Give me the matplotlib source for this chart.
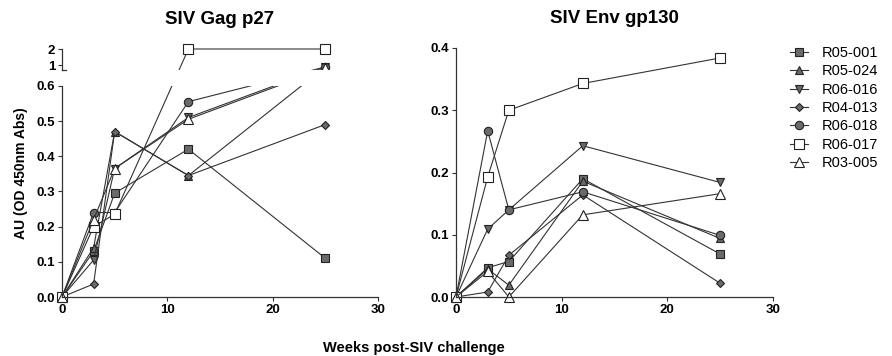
import numpy as np
import matplotlib
matplotlib.use('Agg')
import matplotlib.pyplot as plt
from matplotlib.lines import Line2D

plt.rcParams['font.family'] = ['Liberation Sans', 'DejaVu Sans']
plt.rcParams['font.weight'] = 'bold'

weeks = [0, 3, 5, 12, 25]
animals = ['R05-001', 'R05-024', 'R06-016', 'R04-013', 'R06-018', 'R06-017', 'R03-005']

# SIV Gag p27
gag = {
    'R05-001': [0, 0.13, 0.295, 0.42, 0.11],
    'R05-024': [0, 0.14, 0.47, 0.345, 0.88],
    'R06-016': [0, 0.105, 0.365, 0.51, 0.88],
    'R04-013': [0, 0.037, 0.47, 0.345, 0.49],
    'R06-018': [0, 0.24, 0.24, 0.555, 0.88],
    'R06-017': [0, 0.20, 0.235, 2.0, 2.0],
    'R03-005': [0, 0.22, 0.365, 0.505, 0.80],
}

# SIV Env gp130
env = {
    'R05-001': [0, 0.047, 0.057, 0.19, 0.069],
    'R05-024': [0, 0.045, 0.019, 0.186, 0.094],
    'R06-016': [0, 0.109, 0.14, 0.243, 0.184],
    'R04-013': [0, 0.008, 0.067, 0.164, 0.022],
    'R06-018': [0, 0.267, 0.14, 0.169, 0.099],
    'R06-017': [0, 0.193, 0.30, 0.343, 0.384],
    'R03-005': [0, 0.041, 0.0, 0.132, 0.166],
}

gag_ticks = [0, 0.1, 0.2, 0.3, 0.4, 0.5, 0.6, 1, 2]
gag_ticklabels = ['0.0', '0.1', '0.2', '0.3', '0.4', '0.5', '0.6', '1', '2']
env_ticks = [0, 0.1, 0.2, 0.3, 0.4]
env_ticklabels = ['0.0', '0.1', '0.2', '0.3', '0.4']
x_ticks = [0, 10, 20, 30]

styles = {
    'R05-001': dict(marker='s', ms=5.5, mfc='#6a6a6a'),
    'R05-024': dict(marker='^', ms=6, mfc='#6a6a6a'),
    'R06-016': dict(marker='v', ms=6, mfc='#6a6a6a'),
    'R04-013': dict(marker='D', ms=3.8, mfc='#6a6a6a'),
    'R06-018': dict(marker='o', ms=6, mfc='#6a6a6a'),
    'R06-017': dict(marker='s', ms=7, mfc='white'),
    'R03-005': dict(marker='^', ms=7.5, mfc='white'),
}
lc = '#333333'

# broken y axis for the left panel: piecewise linear (pixel units)
yb = np.array([-10, 0, 0.6, 0.6875, 100])
tb = np.array([-3520, 0, 211.2, 227, 227 + 16 * (100 - 0.6875)])
def fwd(y):
    return np.interp(y, yb, tb)
def inv(t):
    return np.interp(t, tb, yb)

fig = plt.figure(figsize=(8.92, 3.56), dpi=100)
ax1 = fig.add_axes([62/892, 59/356, 316/892, 248/356])
ax2 = fig.add_axes([456/892, 59/356, 317/892, 249/356])

ax1.set_yscale('function', functions=(fwd, inv))

for a in animals:
    st = styles[a]
    ax1.plot(weeks, gag[a], color=lc, lw=0.8, mec='#222222', mew=0.8,
             clip_on=False, zorder=2, **st)
    ax2.plot(weeks, env[a], color=lc, lw=0.8, mec='#222222', mew=0.8,
             clip_on=False, zorder=2, **st)

ax1.set_ylim(0, 2)
ax1.set_yticks(gag_ticks)
ax1.set_yticklabels(gag_ticklabels)
ax1.minorticks_off()
ax1.axhspan(0.6, 0.6875, facecolor='white', edgecolor='none', zorder=2.4)
ax1.spines['left'].set_bounds(0, 0.6)
ax1.plot([0, 0], [0.6875, 2], transform=ax1.get_yaxis_transform(),
         color=lc, lw=0.9, clip_on=False, zorder=3)
ax1.plot([0, 0.012], [0.6875, 0.6875], transform=ax1.get_yaxis_transform(),
         color=lc, lw=0.9, clip_on=False, zorder=3)

ax2.set_ylim(0, 0.4)
ax2.set_yticks(env_ticks)
ax2.set_yticklabels(env_ticklabels)

for ax in (ax1, ax2):
    ax.set_xlim(0, 30)
    ax.set_xticks(x_ticks)
    ax.spines['top'].set_visible(False)
    ax.spines['right'].set_visible(False)
    for s in ('left', 'bottom'):
        ax.spines[s].set_color(lc)
        ax.spines[s].set_linewidth(0.9)
    ax.tick_params(direction='out', length=3, width=0.8, color=lc,
                   labelsize=9.5, pad=2)

ax1.set_title('SIV Gag p27', fontsize=13.5, fontweight='bold', pad=18)
ax2.set_title('SIV Env gp130', fontsize=13.5, fontweight='bold', pad=18)
ax1.set_ylabel('AU (OD 450nm Abs)', fontsize=10, fontweight='bold', labelpad=6)
fig.text(414/892, 1 - 348/356, 'Weeks post-SIV challenge', ha='center',
         va='center', fontsize=10.5, fontweight='bold')

handles = [Line2D([], [], color=lc, lw=0.8, mec='#222222', mew=0.8, **styles[a])
           for a in animals]
fig.legend(handles, animals, loc='upper left', bbox_to_anchor=(790/892, 1 - 46/356),
           frameon=False, borderpad=0, borderaxespad=0, handlelength=1.2,
           handletextpad=1.0, labelspacing=0.3, prop={'weight': 'normal', 'size': 10.5})

fig.savefig('out.png', dpi=100)
